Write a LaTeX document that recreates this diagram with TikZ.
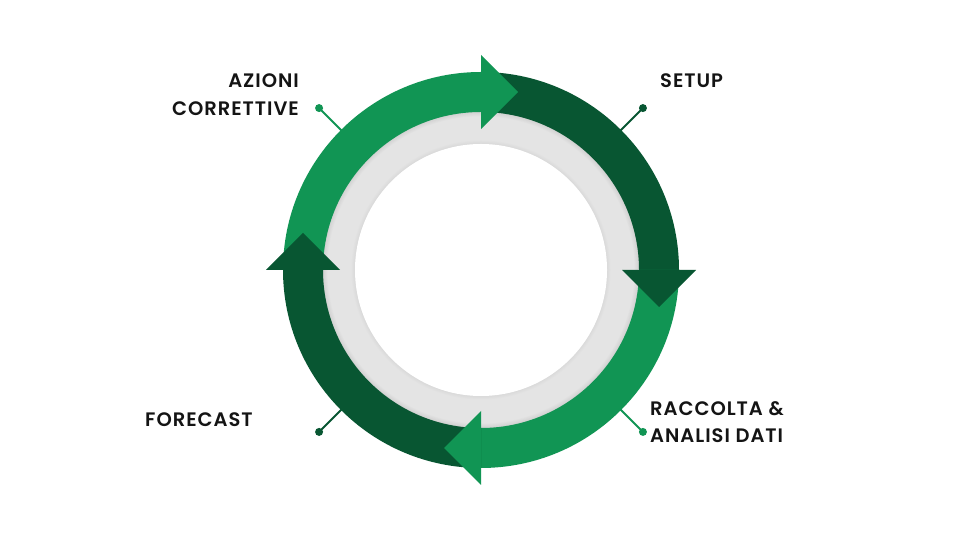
\documentclass[tikz,border=0pt]{standalone}
\usepackage{fontspec}
\setmainfont{Poppins}[BoldFont={Poppins SemiBold}]
\definecolor{lightg}{RGB}{17,149,84}
\definecolor{darkg}{RGB}{8,86,50}
\definecolor{ringgrey}{RGB}{228,228,228}
\begin{document}
\begin{tikzpicture}[x=1pt,y=1pt,
  lbl/.style={inner sep=0pt, font=\fontsize{19.5}{27.5}\selectfont\bfseries\addfontfeatures{LetterSpace=5}, text=black!92},
  dotnode/.style={circle, fill=#1, inner sep=0pt, minimum size=8pt},
  tick/.style={draw=#1, line width=1.8pt}]
\useasboundingbox (0,0) rectangle (960,540);
\fill[white] (0,0) rectangle (960,540);
\begin{scope}[shift={(481,270)}]
  % grey ring and inner white disc
  \fill[ringgrey] (0,0) circle (170);
  \foreach \i in {1,...,6}
    \draw[black, opacity=0.012, line width=\i*1.5pt] (0,0) circle (158);
  \foreach \i in {1,...,5}
    \draw[black, opacity=0.008, line width=\i*1.5pt] (0,0) circle (126);
  \fill[white] (0,0) circle (126);
  % connector anchors on the ring
  \coordinate (cA) at (135:192);
  \coordinate (cS) at (45:192);
  \coordinate (cR) at (-45:192);
  \coordinate (cF) at (-135:192);
  \node[dotnode=lightg] (dA) at (135:229) {};
  \node[dotnode=darkg]  (dS) at (45:229) {};
  \node[dotnode=lightg] (dR) at (-45:229) {};
  \node[dotnode=darkg]  (dF) at (-135:229) {};
  \draw[tick=lightg] (cA) -- (dA.center);
  \draw[tick=darkg]  (cS) -- (dS.center);
  \draw[tick=lightg] (cR) -- (dR.center);
  \draw[tick=darkg]  (cF) -- (dF.center);
  % ring segments
  \fill[lightg] (180:198) arc[start angle=180,end angle=90,radius=198] -- (90:158) arc[start angle=90,end angle=180,radius=158] -- cycle;
  \fill[darkg] (90:198) arc[start angle=90,end angle=0,radius=198] -- (0:158) arc[start angle=0,end angle=90,radius=158] -- cycle;
  \fill[lightg] (0:198) arc[start angle=0,end angle=-90,radius=198] -- (-90:158) arc[start angle=-90,end angle=0,radius=158] -- cycle;
  \fill[darkg] (-90:198) arc[start angle=-90,end angle=-180,radius=198] -- (-180:158) arc[start angle=-180,end angle=-90,radius=158] -- cycle;
  % arrow heads
  \fill[lightg] (90:215) -- (37,178) -- (90:141) -- cycle;
  \fill[darkg] (0:215) -- (178,-37) -- (0:141) -- cycle;
  \fill[lightg] (-90:215) -- (-37,-178) -- (-90:141) -- cycle;
  \fill[darkg] (180:215) -- (-178,37) -- (180:141) -- cycle;
\end{scope}
% labels
\node[lbl, anchor=east, align=right] (tA) at (299,445.25) {AZIONI\\CORRETTIVE};
\node[lbl, anchor=west] (tS) at (660,459) {SETUP};
\node[lbl, anchor=west, align=left] (tR) at (650,118) {RACCOLTA \&\\ANALISI DATI};
\node[lbl, anchor=west] (tF) at (145,120) {FORECAST};
\end{tikzpicture}
\end{document}
